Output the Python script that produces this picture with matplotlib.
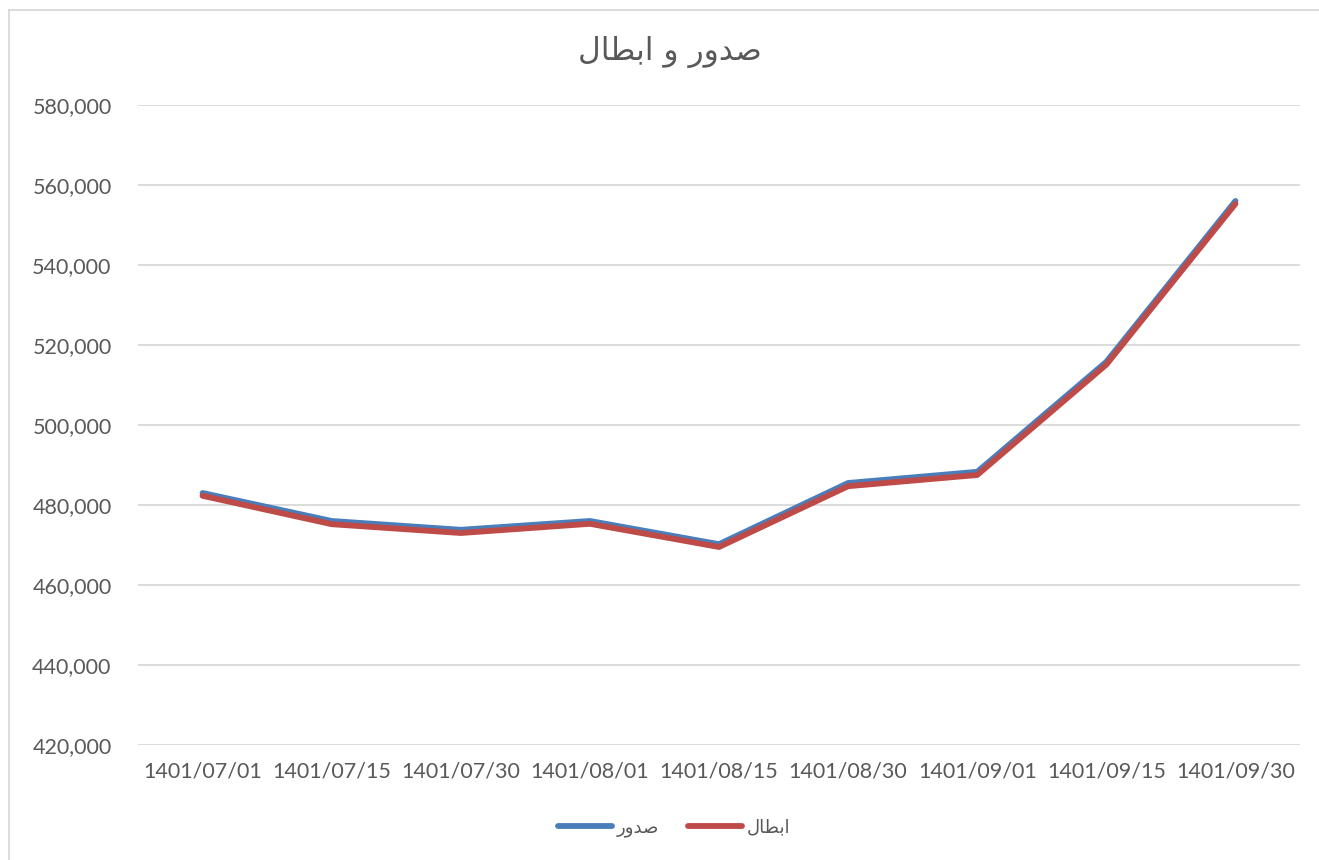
import matplotlib
matplotlib.use("Agg")
import matplotlib.pyplot as plt
from matplotlib.lines import Line2D
from matplotlib.ticker import FuncFormatter

categories = ["1401/07/01", "1401/07/15", "1401/07/30", "1401/08/01", "1401/08/15",
              "1401/08/30", "1401/09/01", "1401/09/15", "1401/09/30"]
sodur = [483000, 476000, 473800, 476000, 470200, 485500, 488300, 515800, 556000]
ebtal = [482300, 475200, 473000, 475300, 469500, 484700, 487500, 515100, 555300]

# pre-shaped Arabic (presentation forms, visual order)
title_txt = "\uFEDD\uFE8E\uFEC4\uFE91\uFE8D \uFEED \uFEAD\uFEED\uFEAA\uFEBB"   # صدور و ابطال
lab_sodur = "\uFEAD\uFEED\uFEAA\uFEBB"            # صدور
lab_ebtal = "\uFEDD\uFE8E\uFEC4\uFE91\uFE8D"      # ابطال

grey = "#595959"
plt.rcParams['font.family'] = ['Lato', 'DejaVu Sans']

W, H = 1319, 860
fig = plt.figure(figsize=(W / 100, H / 100), dpi=100)
ax = fig.add_axes([138 / W, 1 - 745 / H, (1300 - 138) / W, (745 - 105) / H])

x = list(range(len(categories)))
ax.plot(x, sodur, color="#4A7EBB", lw=4.2, solid_capstyle="round", solid_joinstyle="round", label=lab_sodur, zorder=3)
ax.plot(x, ebtal, color="#BE4B48", lw=4.2, solid_capstyle="round", solid_joinstyle="round", label=lab_ebtal, zorder=4)

ax.set_xlim(-0.5, len(categories) - 0.5)
ax.set_ylim(420000, 580000)
ax.set_yticks(range(420000, 580001, 20000))
ax.yaxis.set_major_formatter(FuncFormatter(lambda v, p: f"{int(v):,}"))
ax.set_xticks(x)
ax.set_xticklabels(categories)
ax.grid(axis="y", color="#D9D9D9", lw=1.3)
ax.set_axisbelow(True)
for s in ax.spines.values():
    s.set_visible(False)
ax.tick_params(axis="both", length=0, labelsize=15.5, labelcolor=grey)
ax.tick_params(axis="y", pad=19)
ax.tick_params(axis="x", pad=12)

fig.text(670 / W, 1 - 52 / H, title_txt, ha="center", va="center", fontsize=22.5,
         color=grey, family=['DejaVu Sans'])

leg = fig.legend(loc="center", bbox_to_anchor=(674 / W, 1 - 828 / H), ncol=2, frameon=False,
                 prop={'family': 'DejaVu Sans', 'size': 13}, handlelength=3.0, columnspacing=1.6,
                 handletextpad=0.25)
for t in leg.get_texts():
    t.set_color(grey)

# chart-area border
fig.add_artist(Line2D([9 / W, 1], [1 - 10 / H, 1 - 10 / H], color="#D9D9D9", lw=1.3, transform=fig.transFigure))
fig.add_artist(Line2D([9 / W, 9 / W], [0, 1 - 10 / H], color="#D9D9D9", lw=1.3, transform=fig.transFigure))

fig.savefig("out.png", dpi=100, facecolor="white")
